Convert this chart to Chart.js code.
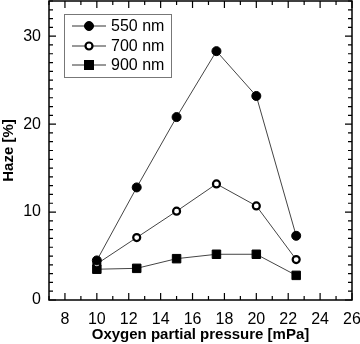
<!DOCTYPE html>
<html>
<head>
<meta charset="utf-8">
<script src="https://cdn.jsdelivr.net/npm/chart.js@4"></script>
<style>
  html, body { margin: 0; padding: 0; background: #fff; }
  #wrap { width: 360px; height: 344px; }
</style>
</head>
<body>
<div id="wrap"><canvas id="myChart"></canvas></div>
<script>
// data
var pressure = [10, 12.5, 15, 17.5, 20, 22.5];
var haze550 = [4.5, 12.8, 20.8, 28.3, 23.2, 7.3];
var haze700 = [4.1, 7.1, 10.1, 13.2, 10.7, 4.6];
var haze900 = [3.5, 3.6, 4.7, 5.2, 5.2, 2.8];
var seriesNames = ['550 nm', '700 nm', '900 nm'];
var xTickLabels = [8, 10, 12, 14, 16, 18, 20, 22, 24, 26];
var yTickLabels = [0, 10, 20, 30];

function pts(ys) {
  return pressure.map(function (x, i) { return { x: x, y: ys[i] }; });
}

var FONT = 'Liberation Sans, Arial, sans-serif';

// ticks pointing inward on all four sides, plus the frame
var frameTicks = {
  id: 'frameTicks',
  afterDraw: function (chart) {
    var c = chart.ctx, a = chart.chartArea;
    var xs = chart.scales.x, ys = chart.scales.y;
    c.save();
    c.strokeStyle = '#000';
    c.lineWidth = 1.5;
    c.strokeRect(a.left, a.top, a.right - a.left, a.bottom - a.top);
    c.lineWidth = 1.2;
    c.beginPath();
    for (var v = 7; v <= 26; v++) {
      var px = xs.getPixelForValue(v);
      var len = (v % 2 === 0) ? 7 : 4;
      c.moveTo(px, a.bottom); c.lineTo(px, a.bottom - len);
      c.moveTo(px, a.top); c.lineTo(px, a.top + len);
    }
    for (var w = 0; w <= 34; w++) {
      var py = ys.getPixelForValue(w);
      var l2 = (w % 10 === 0) ? 7 : 4;
      c.moveTo(a.left, py); c.lineTo(a.left + l2, py);
      c.moveTo(a.right, py); c.lineTo(a.right - l2, py);
    }
    c.stroke();
    c.restore();
  }
};

// boxed legend inside the plot, top left
var boxLegend = {
  id: 'boxLegend',
  afterDraw: function (chart) {
    var c = chart.ctx;
    c.save();
    c.fillStyle = '#fff';
    c.fillRect(64, 14, 107, 63);
    c.strokeStyle = '#777';
    c.lineWidth = 1;
    c.strokeRect(64.5, 14.5, 107, 63);
    var rows = [26, 46, 65];
    chart.data.datasets.forEach(function (ds, i) {
      var y = rows[i];
      c.strokeStyle = '#333';
      c.lineWidth = 1;
      c.beginPath(); c.moveTo(72, y); c.lineTo(106, y); c.stroke();
      if (ds.pointStyle === 'rect') {
        c.fillStyle = '#000';
        c.fillRect(89 - 5, y - 5, 10, 10);
      } else {
        c.beginPath();
        c.arc(89, y, ds.pointRadius, 0, Math.PI * 2);
        c.fillStyle = ds.pointBackgroundColor;
        c.fill();
        c.lineWidth = ds.pointBorderWidth;
        c.strokeStyle = '#000';
        c.stroke();
      }
      c.fillStyle = '#000';
      c.font = '16px ' + FONT;
      c.textBaseline = 'middle';
      c.textAlign = 'left';
      c.fillText(ds.label, 111, y + 1);
    });
    c.restore();
  }
};

var ctx = document.getElementById('myChart').getContext('2d');
var myChart = new Chart(ctx, {
  type: 'line',
  data: {
    datasets: [{
      label: seriesNames[0],
      data: pts(haze550),
      borderColor: '#444',
      borderWidth: 1,
      pointStyle: 'circle',
      pointRadius: 4.5,
      pointBackgroundColor: '#000',
      pointBorderColor: '#000',
      pointBorderWidth: 1
    }, {
      label: seriesNames[1],
      data: pts(haze700),
      borderColor: '#444',
      borderWidth: 1,
      pointStyle: 'circle',
      pointRadius: 3.5,
      pointBackgroundColor: '#fff',
      pointBorderColor: '#000',
      pointBorderWidth: 2.2
    }, {
      label: seriesNames[2],
      data: pts(haze900),
      borderColor: '#444',
      borderWidth: 1,
      pointStyle: 'rect',
      pointRadius: 6,
      pointBackgroundColor: '#000',
      pointBorderColor: '#000',
      pointBorderWidth: 1
    }]
  },
  options: {
    responsive: true,
    maintainAspectRatio: false,
    animation: false,
    layout: { autoPadding: false, padding: { top: 1, right: 8, left: 0, bottom: 0 } },
    plugins: {
      legend: { display: false },
      tooltip: { enabled: false }
    },
    scales: {
      x: {
        type: 'linear',
        min: 7,
        max: 26,
        afterBuildTicks: function (s) { s.ticks = xTickLabels.map(function (v) { return { value: v }; }); },
        afterFit: function (s) { s.height = 44; s.paddingLeft = 0; s.paddingRight = 0; },
        grid: { display: false, drawTicks: false },
        border: { display: false },
        ticks: { color: '#000', font: { family: FONT, size: 16 }, padding: 10, maxRotation: 0, autoSkip: false },
        title: { display: true, text: 'Oxygen partial pressure [mPa]', color: '#000', font: { family: FONT, size: 15, weight: 'bold' }, padding: { top: 0, bottom: 0 } }
      },
      y: {
        type: 'linear',
        min: 0,
        max: 34,
        afterBuildTicks: function (s) { s.ticks = yTickLabels.map(function (v) { return { value: v }; }); },
        afterFit: function (s) { s.width = 49; s.paddingTop = 0; s.paddingBottom = 0; },
        grid: { display: false, drawTicks: false },
        border: { display: false },
        ticks: { color: '#000', font: { family: FONT, size: 16 }, padding: 8 },
        title: { display: true, text: 'Haze [%]', color: '#000', font: { family: FONT, size: 15, weight: 'bold' }, padding: { top: 0, bottom: 6 } }
      }
    }
  },
  plugins: [frameTicks, boxLegend]
});
</script>
</body>
</html>
